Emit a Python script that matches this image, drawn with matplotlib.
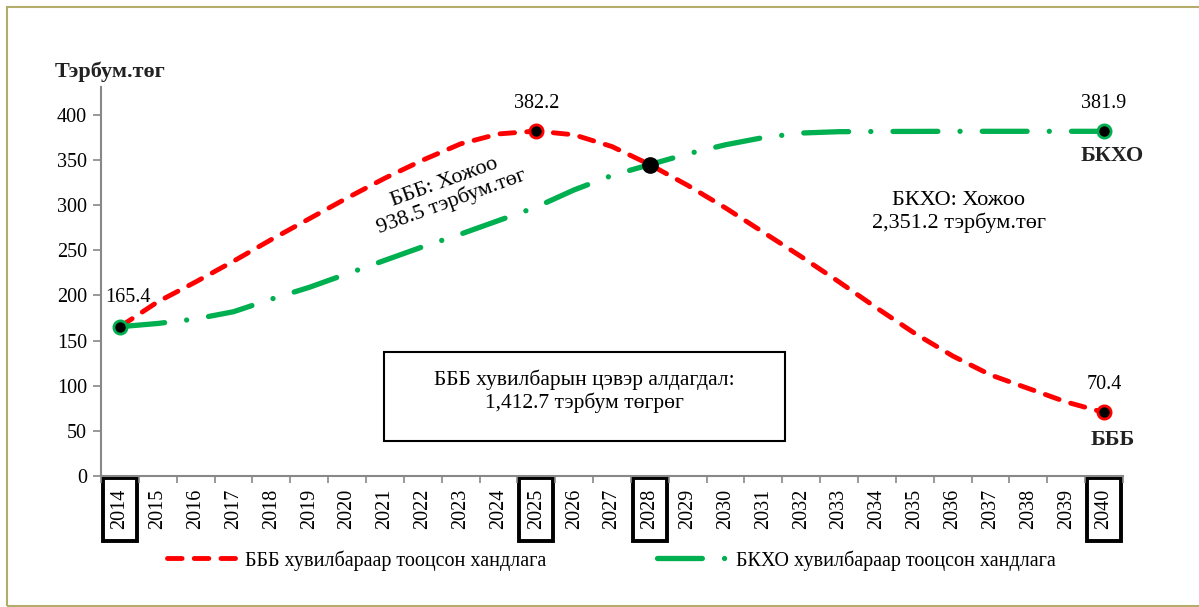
import matplotlib.pyplot as plt
from matplotlib.patches import Rectangle
from matplotlib.transforms import blended_transform_factory

# Projected trend (billion tugrik), 2014-2040, two scenarios

years = [str(y) for y in range(2014, 2041)]
bbb = [165.4, 193, 215, 238, 262, 285, 308, 330, 350, 368, 379, 382.2,
       378, 365, 345, 322, 297, 270, 243, 215, 186, 158, 133, 112, 97, 82, 70.4]
bkho = [165.4, 169, 174, 182, 196, 209, 224, 239, 254, 268, 283, 298,
        317, 333, 345, 357, 367, 375, 380, 381.5, 381.7, 381.8, 381.9, 381.9, 381.9, 381.9, 381.9]
marked_years = ['2014', '2025', '2028', '2040']

red = '#ff0000'
green = '#00b050'

plt.rcParams['font.family'] = ['Liberation Serif', 'DejaVu Serif']

fig = plt.figure(figsize=(11.99, 6.07), dpi=100)
ax = fig.add_axes([101 / 1199, 1 - 476 / 607, 1022 / 1199, 389 / 607])

x = list(range(len(years)))
ax.plot(x, bbb, color=red, lw=3.5, dashes=(3.0, 2.5), dash_capstyle='round',
        label='БББ хувилбараар тооцсон хандлага', zorder=3)
ax.plot(x, bkho, color=green, lw=3.8, dashes=(8.5, 4.2, 0.01, 4.2), dash_capstyle='round',
        label='БКХО хувилбараар тооцсон хандлага', zorder=4)

# end point markers
for i in [bbb.index(max(bbb)), len(years) - 1]:
    ax.plot(i, bbb[i], 'o', ms=9.5, mfc='black', mec=red, mew=2, zorder=5)
ax.plot(0, bbb[0], 'o', ms=9.5, mfc='black', mec=green, mew=2, zorder=5)
ax.plot(len(years) - 1, bkho[-1], 'o', ms=9.5, mfc='black', mec=green, mew=2, zorder=5)
i28 = years.index('2028')
ax.plot(i28, bbb[i28], 'o', ms=11, color='black', zorder=6)

# value labels
fs = 14.5
ax.annotate(f'{bbb[0]}', (0, bbb[0]), xytext=(6, 21), textcoords='offset points',
            ha='center', va='center', fontsize=fs)
i25 = years.index('2025')
ax.annotate(f'{bbb[i25]}', (i25, bbb[i25]), xytext=(0, 20), textcoords='offset points',
            ha='center', va='center', fontsize=fs)
ax.annotate(f'{bkho[-1]}', (len(years) - 1, bkho[-1]), xytext=(0, 20), textcoords='offset points',
            ha='center', va='center', fontsize=fs)
ax.annotate(f'{bbb[-1]}', (len(years) - 1, bbb[-1]), xytext=(0, 20), textcoords='offset points',
            ha='center', va='center', fontsize=fs)
ax.annotate('БКХО', (len(years) - 1, bkho[-1]), xytext=(6, -18), textcoords='offset points',
            ha='center', va='center', fontsize=16, fontweight='bold', color='#222222')
ax.annotate('БББ', (len(years) - 1, bbb[-1]), xytext=(6, -20), textcoords='offset points',
            ha='center', va='center', fontsize=16, fontweight='bold', color='#222222')

# text notes
ax.text(0.3395, 0.73, 'БББ: Хожоо\n938.5 тэрбум.төг', transform=ax.transAxes,
        ha='center', va='center', rotation=20, fontsize=16, linespacing=1.05,
        rotation_mode='anchor')
ax.text(0.8395, 0.679, 'БКХО: Хожоо\n2,351.2 тэрбум.төг', transform=ax.transAxes,
        ha='center', va='center', fontsize=16, linespacing=1.2)
ax.add_patch(Rectangle((0.277, 0.09), 0.392, 0.229, transform=ax.transAxes,
                       fill=False, ec='black', lw=1.5, zorder=2))
ax.text(0.4726, 0.217, 'БББ хувилбарын цэвэр алдагдал:\n1,412.7 тэрбум төгрөг',
        transform=ax.transAxes, ha='center', va='center', fontsize=15.5, linespacing=1.15)

# axes styling
ax.set_xlim(-0.5, len(years) - 0.5)
ax.set_ylim(0, 431)
ax.set_yticks(range(0, 401, 50))
ax.set_xticks(x)
ax.set_xticklabels(years, rotation=90, fontsize=fs)
ax.set_xticks([i + 0.5 for i in range(-1, len(years))], minor=True)
ax.tick_params(axis='x', which='major', length=0, pad=9)
ax.tick_params(axis='x', which='minor', length=5, color='#888888', width=1.2)
ax.tick_params(axis='y', length=6, color='#888888', width=1.2, labelsize=fs, pad=4)
for side in ['top', 'right']:
    ax.spines[side].set_visible(False)
for side in ['left', 'bottom']:
    ax.spines[side].set_color('#888888')
    ax.spines[side].set_linewidth(1.5)

# boxes around highlighted year labels
trans = blended_transform_factory(ax.transData, ax.transAxes)
for yr in marked_years:
    i = years.index(yr)
    ax.add_patch(Rectangle((i - 0.45, -0.167), 0.9, 0.162, transform=trans,
                           fill=False, ec='black', lw=2.8, clip_on=False))

fig.text(55 / 1199, 1 - 72 / 607, 'Тэрбум.төг', fontsize=16, fontweight='bold',
         ha='left', va='center', color='#222222')

ax.legend(loc='center', bbox_to_anchor=(611 / 1199, 0.077), bbox_transform=fig.transFigure,
          ncol=2, frameon=False, fontsize=fs, handlelength=3.4, columnspacing=5.5,
          handletextpad=0.5)

# outer frame
fig.add_artist(Rectangle((7 / 1199, 1 - 606 / 607), 1.2, 599 / 607, transform=fig.transFigure,
                         fill=False, ec='#b3ac6b', lw=1.5))

plt.savefig('out.png', dpi=100)
